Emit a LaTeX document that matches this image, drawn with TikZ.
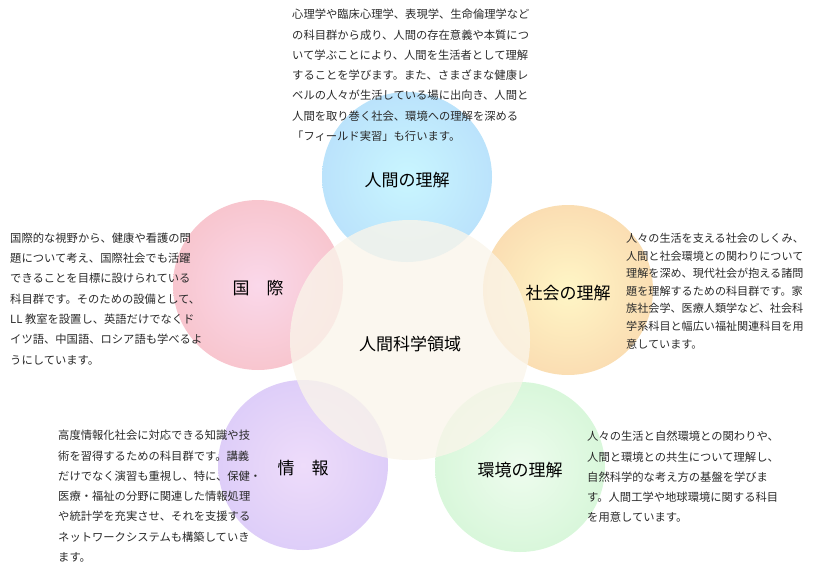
\documentclass[tikz,border=0pt]{standalone}
\usepackage{fontspec}
\setmainfont{Noto Sans CJK JP}
\usetikzlibrary{positioning}
\definecolor{HsBlueIn}{HTML}{C9F6FF}
\definecolor{HsBlueOut}{HTML}{ADD0F8}
\definecolor{HsPinkIn}{HTML}{FAD8EA}
\definecolor{HsPinkOut}{HTML}{F6B4B4}
\definecolor{HsOrangeIn}{HTML}{FFF6C6}
\definecolor{HsOrangeOut}{HTML}{F6C6A0}
\definecolor{HsPurpleIn}{HTML}{EEDCFA}
\definecolor{HsPurpleOut}{HTML}{CEC0F7}
\definecolor{HsGreenIn}{HTML}{EEFCEE}
\definecolor{HsGreenOut}{HTML}{C4F2C8}
\definecolor{HsCore}{HTML}{FAF5EA}
\definecolor{HsText}{HTML}{2A2A2A}
\makeatletter
\pgfdeclareradialshading[tikz@radial@inner,tikz@radial@outer]{softradial}{\pgfpoint{0bp}{0bp}}{color(0bp)=(tikz@radial@inner);color(49bp)=(tikz@radial@outer);color(50bp)=(tikz@radial@outer)}
\makeatother

\begin{document}
\begin{tikzpicture}[x=1pt,y=-1pt,
    field/.style 2 args={circle,minimum size=170pt,inner sep=0pt,inner color=#1,outer color=#2,shading=softradial,
      font=\fontsize{17}{20}\selectfont,text=black,text height=19pt,text depth=0pt},
    note/.style={anchor=north west,inner sep=0pt,align=left,text=HsText,font=\fontsize{11.3}{20.3}\selectfont}]
  \useasboundingbox (0,0) rectangle (818,586);
  % the five fields round the core
  \node[field={HsBlueIn}{HsBlueOut}] (human) at (407,177) {人間の理解};
  \node[field={HsPinkIn}{HsPinkOut}] (intl) at (258,285) {国　際};
  \node[field={HsOrangeIn}{HsOrangeOut}] (society) at (568,290) {社会の理解};
  \node[field={HsPurpleIn}{HsPurpleOut}] (info) at (303,465) {情　報};
  \node[field={HsGreenIn}{HsGreenOut}] (env) at (520,467) {環境の理解};
  \node[circle,minimum size=240pt,inner sep=0pt,fill=HsCore,fill opacity=0.78,text opacity=1,
    font=\fontsize{17}{20}\selectfont,text height=20pt,text depth=0pt] (core) at (410,340) {人間科学領域};
  % descriptions
  \node[note] (human-txt) at (292,9) {心理学や臨床心理学、表現学、生命倫理学など\\の科目群から成り、人間の存在意義や本質につ\\いて学ぶことにより、人間を生活者として理解\\することを学びます。また、さまざまな健康レ\\ベルの人々が生活している場に出向き、人間と\\人間を取り巻く社会、環境への理解を深める\\「フィールド実習」も行います。};
  \node[note] (intl-txt) at (10,232.5) {国際的な視野から、健康や看護の問\\題について考え、国際社会でも活躍\\できることを目標に設けられている\\科目群です。そのための設備として、\\LL 教室を設置し、英語だけでなくド\\イツ語、中国語、ロシア語も学べるよ\\うにしています。};
  \node[note,font=\fontsize{11.1}{17.6}\selectfont] (society-txt) at (626,233) {人々の生活を支える社会のしくみ、\\人間と社会環境との関わりについて\\理解を深め、現代社会が抱える諸問\\題を理解するための科目群です。家\\族社会学、医療人類学など、社会科\\学系科目と幅広い福祉関連科目を用\\意しています。};
  \node[note] (info-txt) at (58,430) {高度情報化社会に対応できる知識や技\\術を習得するための科目群です。講義\\だけでなく演習も重視し、特に、保健・\\医療・福祉の分野に関連した情報処理\\や統計学を充実させ、それを支援する\\ネットワークシステムも構築していき\\ます。};
  \node[note] (env-txt) at (587,431) {人々の生活と自然環境との関わりや、\\人間と環境との共生について理解し、\\自然科学的な考え方の基盤を学びま\\す。人間工学や地球環境に関する科目\\を用意しています。};
\end{tikzpicture}
\end{document}
